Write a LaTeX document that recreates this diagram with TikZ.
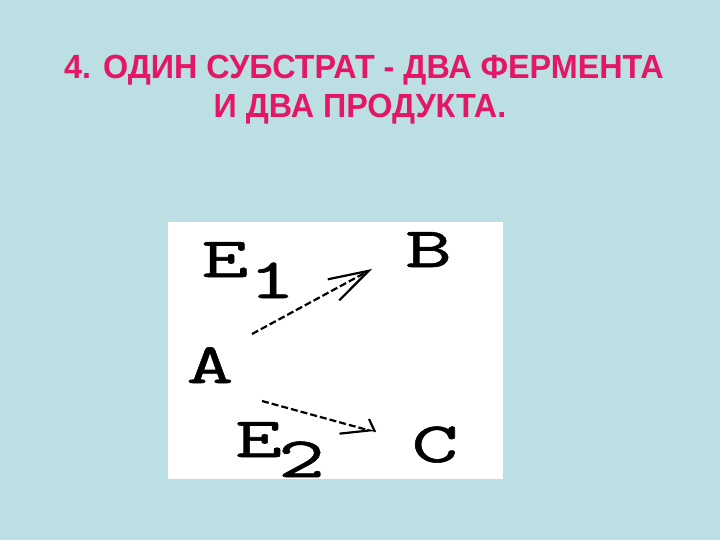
\documentclass[tikz,border=0pt]{standalone}
\usepackage{fontspec}
\setmainfont{Liberation Sans}[FakeStretch=0.965]
\newfontfamily\letterfont{Latin Modern Mono}[FakeStretch=1.6,FakeBold=1]
\usetikzlibrary{arrows.meta}
\definecolor{slidebg}{RGB}{188,223,228}
\definecolor{titlepink}{RGB}{228,22,102}
\begin{document}
\begin{tikzpicture}[x=1pt,y=1pt,yscale=-1,xscale=1,
    title/.style={text=titlepink,font=\fontsize{33.5}{40}\selectfont\bfseries,inner sep=0pt,anchor=base},
    letter/.style={font=\letterfont\fontsize{57}{57}\selectfont,inner sep=0pt,anchor=base},
    react/.style={line width=2.2pt,dash pattern=on 7pt off 3pt}]
\useasboundingbox (0,0) rectangle (720,540);
% background of the slide
\fill[slidebg] (0,0) rectangle (720,540);
% Text Node
\node[title] (t1) at (364,79) {4. ОДИН СУБСТРАТ - ДВА ФЕРМЕНТА};
% Text Node
\node[title] (t2) at (360,118) {И ДВА ПРОДУКТА.};
% white panel
\fill[white] (168,222) rectangle (503,479);
% letters
\node[letter] (A) at (210,383) {A};
\node[letter] (B) at (428.5,267) {B};
\node[letter] (C) at (435,462) {C};
\node[letter] (E1) at (248.4,277) {E\raisebox{-21pt}{1}};
\node[letter] (E2) at (280,457) {E\kern-4pt\raisebox{-20pt}{2}};
% arrow ends
\coordinate (s1) at (252,334);
\coordinate (f1) at (372,269);
\coordinate (s2) at (262,401);
\coordinate (f2) at (375,432);
\coordinate (h2) at (369,419);
\draw[react,-{Straight Barb[length=40pt,width=24pt,line width=2.2pt]}] (s1) -- (f1);
\draw[react,-{Straight Barb[right,length=28pt,width=22pt,line width=2.2pt]}] (s2) -- (f2);
\draw[line width=2.2pt] (f2) -- (h2);
\end{tikzpicture}
\end{document}
